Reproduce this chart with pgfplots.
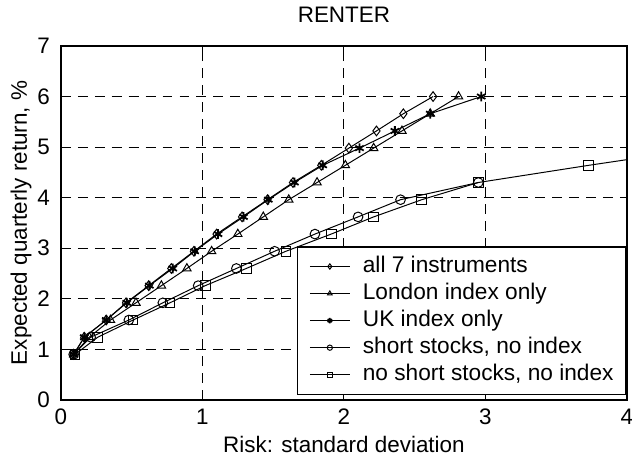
\documentclass[border=0pt]{standalone}
\usepackage{fontspec}
\setmainfont{Liberation Sans}
\usepackage{pgfplots}
\pgfplotsset{compat=1.18}
\begin{document}
\begin{tikzpicture}
\begin{axis}[
  scale only axis,
  width=257.3pt, height=160.9pt,
  xmin=0, xmax=4, ymin=0, ymax=7,
  xtick={0,1,2,3,4}, ytick={0,1,2,3,4,5,6,7},
  grid=major,
  major grid style={black, line width=0.45pt, dash pattern=on 4.5pt off 3.2pt},
  axis line style={line width=0.6pt},
  tick style={black, line width=0.5pt},
  major tick length=2.5pt,
  tick align=inside,
  clip mode=individual,
  /pgf/number format/assume math mode=true,
  font=\fontsize{10.2}{12}\selectfont,
  xticklabel style={anchor=base, yshift=-11.4pt},
  yticklabel style={xshift=-1.5pt},
  title={RENTER},
  title style={at={(axis description cs:0.5,1.0277)}, anchor=base, inner sep=0pt},
  xlabel={Risk: standard deviation},
  xlabel style={at={(axis description cs:0.5,-0.1498)}, anchor=base, inner sep=0pt},
  ylabel={Expected quarterly return, \%},
  ylabel style={at={(axis description cs:-0.060,0.5)}, anchor=base, inner sep=0pt},
  every axis plot/.append style={black, line width=0.45pt, mark size=2.2pt, mark options={solid, line width=0.45pt}},
  legend cell align=left,
  legend image code/.code={\draw[line width=0.45pt, mark repeat=2, mark phase=2, #1, mark size=1.2pt] plot coordinates {(0pt,0pt) (9.1pt,0pt) (18.2pt,0pt)};},
  legend style={at={(axis description cs:1,0)}, anchor=south east, xshift=-0.5pt, yshift=2.3pt,
    draw=black, line width=0.6pt, fill=white, inner xsep=5.3pt, inner ysep=3.8pt,
    row sep=2.2pt, column sep=5.7pt,
    nodes={inner sep=0pt, text height=7.8pt, text depth=2.3pt},
    font=\fontsize{10.3}{12}\selectfont},
]
% all 7 instruments
\addplot[mark=diamond] coordinates {
(0.09,0.90) (0.165,1.24) (0.32,1.58) (0.46,1.92) (0.62,2.26) (0.78,2.60) (0.94,2.94) (1.10,3.28)
(1.28,3.62) (1.46,3.96) (1.64,4.30) (1.84,4.64) (2.035,4.98) (2.23,5.32) (2.42,5.66) (2.63,6.00)};
\addlegendentry{all 7 instruments}
% London index only
\addplot[mark=triangle] coordinates {
(0.09,0.90) (0.20,1.24) (0.35,1.58) (0.53,1.92) (0.71,2.26) (0.89,2.60) (1.065,2.94) (1.25,3.28)
(1.43,3.62) (1.61,3.96) (1.81,4.30) (2.01,4.64) (2.21,4.98) (2.41,5.32) (2.61,5.66) (2.81,6.00)};
\addlegendentry{London index only}
% UK index only
\addplot[mark=asterisk, mark options={line width=0.8pt}] coordinates {
(0.09,0.90) (0.165,1.24) (0.32,1.58) (0.465,1.92) (0.625,2.26) (0.79,2.60) (0.945,2.94) (1.11,3.28)
(1.29,3.62) (1.465,3.96) (1.65,4.30) (1.85,4.64) (2.11,4.98) (2.36,5.32) (2.61,5.66) (2.97,6.00)};
\addlegendentry{UK index only}
% short stocks, no index
\addplot[mark=o] coordinates {
(0.09,0.90) (0.21,1.24) (0.48,1.58) (0.72,1.92) (0.97,2.26) (1.24,2.60) (1.51,2.94) (1.795,3.28)
(2.10,3.62) (2.40,3.96) (2.95,4.30)};
\addlegendentry{short stocks, no index}
% no short stocks, no index
\addplot[mark=square] coordinates {
(0.10,0.90) (0.26,1.24) (0.51,1.58) (0.77,1.92) (1.02,2.26) (1.31,2.60) (1.59,2.94) (1.91,3.28)
(2.21,3.62) (2.55,3.96) (2.95,4.30) (3.73,4.64) (4.55,4.98)};
\addlegendentry{no short stocks, no index}
\end{axis}
\pgfresetboundingbox
\path[use as bounding box] (current axis.south west) ++(-27.7pt,-26.8pt) rectangle ++(287.3pt,208.6pt);
\end{tikzpicture}
\end{document}
